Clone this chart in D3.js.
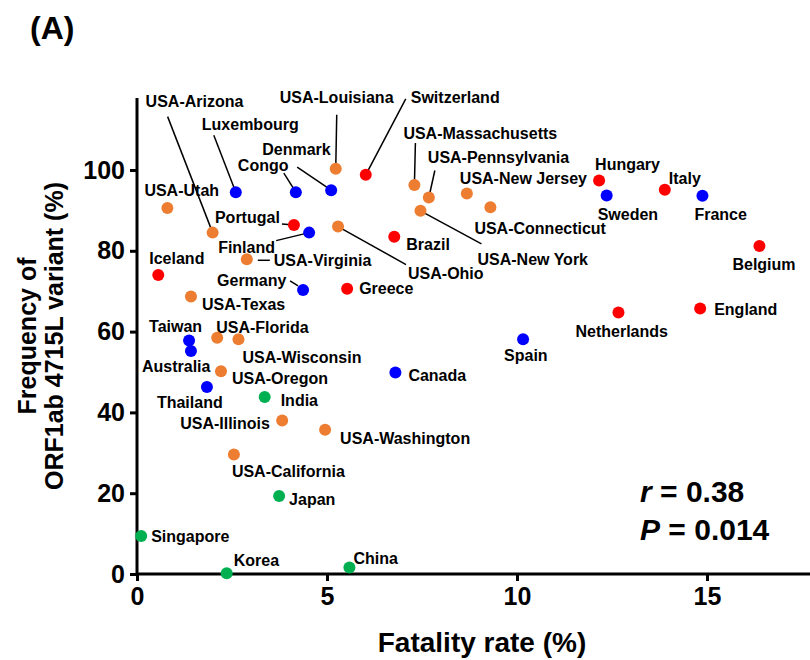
<!DOCTYPE html>
<html lang="en">
<head>
<meta charset="UTF-8">
<title>Fatality rate vs ORF1ab 4715L frequency</title>
<script src="https://d3js.org/d3.v7.min.js"></script>
<style>
    body { margin: 0; background: #fff; }
    svg text { font-family: "Liberation Sans", Arial, sans-serif; font-weight: bold; fill: #000; }
    .axis path, .axis line { stroke: #000; stroke-width: 3px; }
    .leader { stroke: #000; stroke-width: 1.5px; }
</style>
</head>
<body>
<svg width="810" height="660"></svg>
<script>
// data
const countries = ["USA-Utah","Luxembourg","Congo","Denmark","USA-Louisiana","USA-Arizona","Portugal","Finland",
    "USA-Ohio","USA-Virginia","Iceland","Switzerland","Brazil","USA-Massachusetts","USA-Pennsylvania","USA-New York",
    "USA-New Jersey","USA-Connecticut","Hungary","Sweden","Italy","France","Belgium","England","Netherlands",
    "Germany","Greece","USA-Texas","Taiwan","Australia","USA-Florida","USA-Wisconsin","USA-Oregon","Thailand",
    "India","USA-Illinois","USA-Washington","Canada","Spain","USA-California","Japan","Singapore","Korea","China"];
const fatality = [0.80,2.60,4.18,5.11,5.23,1.99,4.13,4.53,
    5.29,2.89,0.56,6.02,6.77,7.30,7.68,7.46,
    8.68,9.30,12.16,12.36,13.89,14.88,16.38,14.82,12.67,
    4.37,5.53,1.42,1.37,1.42,2.11,2.67,2.21,1.84,
    3.36,3.82,4.95,6.80,10.16,2.55,3.74,0.11,2.36,5.59];
const frequency = [90.6,94.5,94.5,95.0,100.3,84.5,86.4,84.5,
    86.0,77.9,74.0,98.8,83.5,96.3,93.2,89.9,
    94.2,90.8,97.4,93.7,95.1,93.6,81.2,65.7,64.7,
    70.3,70.6,68.7,57.8,55.2,58.5,58.1,50.2,46.3,
    43.8,38.0,35.7,49.9,58.1,29.6,19.3,9.4,0.2,1.6];
const group = ["usa","blue","blue","blue","usa","usa","red","blue",
    "usa","usa","red","red","red","usa","usa","usa",
    "usa","usa","red","blue","red","blue","red","red","red",
    "blue","red","usa","blue","blue","usa","usa","usa","blue",
    "green","usa","usa","blue","blue","usa","green","green","green","green"];
const xTicks = [0, 5, 10, 15];
const yTicks = [0, 20, 40, 60, 80, 100];

const colors = { red: "#ff0000", blue: "#0000ff", usa: "#ed7d31", green: "#00b050" };

// label placement (pixel offsets from the dot)
const labelPos = {
    "USA-Utah": [-23,-12], "Luxembourg": [-34,-62], "Congo": [-58,-21], "Denmark": [-69,-35],
    "USA-Louisiana": [-56,-66], "USA-Arizona": [-67,-126], "Portugal": [-79,-2], "Finland": [-91,20],
    "USA-Ohio": [70,52], "USA-Virginia": [27,7], "Iceland": [-9,-11], "Switzerland": [45,-72],
    "Brazil": [12,13], "USA-Massachusetts": [-11,-46], "USA-Pennsylvania": [-1,-34], "USA-New York": [57,54],
    "USA-New Jersey": [-7,-9], "USA-Connecticut": [-16,27], "Hungary": [-4,-11], "Sweden": [-9,25],
    "Italy": [4,-6], "France": [-8,24], "Belgium": [-27,24], "England": [14,6], "Netherlands": [-43,24],
    "Germany": [-86,-4], "Greece": [12,5], "USA-Texas": [11,14], "Taiwan": [-40,-8], "Australia": [-49,21],
    "USA-Florida": [-1,-5], "USA-Wisconsin": [4,24], "USA-Oregon": [11,13], "Thailand": [-50,21],
    "India": [16,9], "USA-Illinois": [-102,9], "USA-Washington": [15,14], "Canada": [13,9],
    "Spain": [-19,22], "USA-California": [-2,23], "Japan": [10,9], "Singapore": [10,6],
    "Korea": [7,-7], "China": [4,-4]
};
const leaders = {
    "Luxembourg": [0,0,-22,-57], "Congo": [0,0,-12,-19], "Denmark": [0,0,-34,-23],
    "USA-Louisiana": [0,0,1,-54], "USA-Arizona": [0,0,-45,-116], "Portugal": [0,0,-12,-1],
    "Finland": [0,0,-33,8], "USA-Ohio": [0,0,68,38], "USA-Virginia": [11,1,23,1],
    "Switzerland": [0,0,40,-76], "USA-Massachusetts": [0,0,1,-42], "USA-Pennsylvania": [0,0,6,-27],
    "USA-New York": [0,0,61,33], "Germany": [-5,-4,-13,-9]
};

const svg = d3.select("svg");
const x = d3.scaleLinear().domain([0, 15]).range([137, 707]);
const y = d3.scaleLinear().domain([0, 100]).range([574, 170]);

const points = countries.map((c, i) => ({ name: c, fx: fatality[i], fy: frequency[i], g: group[i] }));

// axes
const xAxis = svg.append("g").attr("class", "axis").attr("transform", "translate(0,574)")
    .call(d3.axisBottom(x).tickValues(xTicks).tickSize(7).tickSizeOuter(0).tickPadding(6));
xAxis.select(".domain").attr("d", "M" + x(0) + ",0H810");
xAxis.selectAll("text").style("font-size", "25px");

const yAxis = svg.append("g").attr("class", "axis").attr("transform", "translate(137,0)")
    .call(d3.axisLeft(y).tickValues(yTicks).tickSize(7).tickSizeOuter(0).tickPadding(5));
yAxis.select(".domain").attr("d", "M0,98V" + y(0));
yAxis.selectAll("text").style("font-size", "25px");

// leader lines
svg.append("g").selectAll("line")
    .data(points.filter(d => leaders[d.name]))
    .join("line")
    .attr("class", "leader")
    .attr("x1", d => x(d.fx) + leaders[d.name][0])
    .attr("y1", d => y(d.fy) + leaders[d.name][1])
    .attr("x2", d => x(d.fx) + leaders[d.name][2])
    .attr("y2", d => y(d.fy) + leaders[d.name][3]);

// dots
svg.append("g").selectAll("circle")
    .data(points)
    .join("circle")
    .attr("cx", d => x(d.fx))
    .attr("cy", d => y(d.fy))
    .attr("r", 6)
    .attr("fill", d => colors[d.g]);

// labels
svg.append("g").selectAll("text")
    .data(points)
    .join("text")
    .attr("x", d => x(d.fx) + labelPos[d.name][0])
    .attr("y", d => y(d.fy) + labelPos[d.name][1])
    .style("font-size", "16px")
    .text(d => d.name);

// titles
svg.append("text").attr("x", 30).attr("y", 39).style("font-size", "32px").text("(A)");

svg.append("text").attr("x", 482).attr("y", 652).attr("text-anchor", "middle")
    .style("font-size", "28px").text("Fatality rate (%)");

const yTitle = svg.append("text").attr("transform", "translate(0,336) rotate(-90)")
    .attr("text-anchor", "middle").style("font-size", "25px");
yTitle.append("tspan").attr("x", 0).attr("y", 36).text("Frequency of");
yTitle.append("tspan").attr("x", 0).attr("y", 63).text("ORF1ab 4715L variant (%)");

// statistics
const stats = svg.append("g").style("font-size", "30px");
const r1 = stats.append("text").attr("x", 640).attr("y", 502);
r1.append("tspan").style("font-style", "italic").text("r");
r1.append("tspan").text(" = 0.38");
const r2 = stats.append("text").attr("x", 640).attr("y", 540);
r2.append("tspan").style("font-style", "italic").text("P");
r2.append("tspan").text(" = 0.014");
</script>
</body>
</html>
